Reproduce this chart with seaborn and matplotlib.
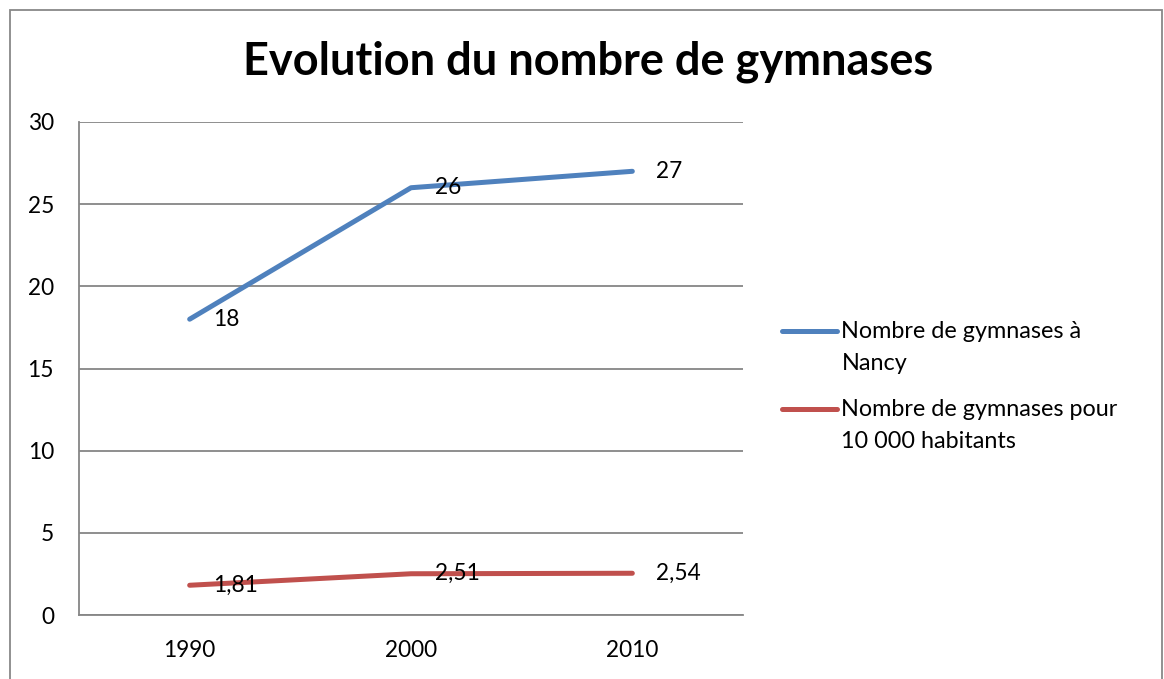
import matplotlib
matplotlib.use("Agg")
import matplotlib.pyplot as plt
from matplotlib.patches import Rectangle
import pandas as pd
import seaborn as sns

# data
years = ['1990', '2000', '2010']
gymnases_nancy = [18, 26, 27]
gymnases_10k = [1.81, 2.51, 2.54]
series_names = ['Nombre de gymnases à\nNancy', 'Nombre de gymnases pour\n10 000 habitants']
colors = ['#4F81BD', '#C0504D']
y_ticks = [0, 5, 10, 15, 20, 25, 30]

df = pd.DataFrame({
    'annee': years * 2,
    'valeur': gymnases_nancy + gymnases_10k,
    'serie': [series_names[0]] * 3 + [series_names[1]] * 3,
})

sns.set_style('white')
plt.rcParams['font.family'] = ['Lato', 'DejaVu Sans']
plt.rcParams['text.color'] = 'black'
plt.rcParams['xtick.color'] = 'black'
plt.rcParams['ytick.color'] = 'black'

fs = 16.3

fig = plt.figure(figsize=(11.64, 6.79), dpi=100)
ax = fig.add_axes([79 / 1164, 64 / 679, 664 / 1164, 493 / 679])

sns.lineplot(data=df, x='annee', y='valeur', hue='serie', palette=colors,
             linewidth=3.6, ax=ax, legend=True, solid_capstyle='round')

# data labels, Excel style on the right of each point
for vals in [gymnases_nancy, gymnases_10k]:
    for i, v in enumerate(vals):
        ax.annotate(f'{v:g}'.replace('.', ','), (i, v), xytext=(17, 0),
                    textcoords='offset points', va='center', ha='left', fontsize=fs)

ax.set_xlim(-0.5, 2.5)
ax.set_ylim(0, 30)
ax.set_yticks(y_ticks)
ax.set_xlabel('')
ax.set_ylabel('')
ax.grid(axis='y', color='#868686', linewidth=1.3)
ax.set_axisbelow(True)
ax.tick_params(length=0, labelsize=fs)
ax.tick_params(axis='y', pad=18)
ax.tick_params(axis='x', pad=18)
for side in ['top', 'right']:
    ax.spines[side].set_visible(False)
for side in ['left', 'bottom']:
    ax.spines[side].set_color('#868686')
    ax.spines[side].set_linewidth(1.3)

handles, labels = ax.get_legend_handles_labels()
ax.get_legend().remove()
leg = fig.legend(handles, labels, loc='center left', bbox_to_anchor=(782 / 1164, 0.431),
                 frameon=False, fontsize=16.8, handlelength=2.35, handletextpad=0.2,
                 labelspacing=1.05, borderpad=0, borderaxespad=0)
for t in leg.get_texts():
    t.set_linespacing(1.68)
# put each legend line level with the first text line, as Excel does
for h in leg.legend_handles:
    h.set_ydata([y + 11.9 for y in h.get_ydata()])
    h.set_solid_capstyle('round')

fig.suptitle('Evolution du nombre de gymnases', fontsize=32.5, fontweight='bold',
             x=0.505, y=0.909, va='center')

# chart border, bottom edge falls outside the picture
fig.add_artist(Rectangle((9.5 / 1164, -0.05), 1152 / 1164, 1.05 - 9.5 / 679,
                         transform=fig.transFigure, fill=False,
                         edgecolor='#888888', linewidth=1.3))

fig.savefig('out.png', dpi=100)
